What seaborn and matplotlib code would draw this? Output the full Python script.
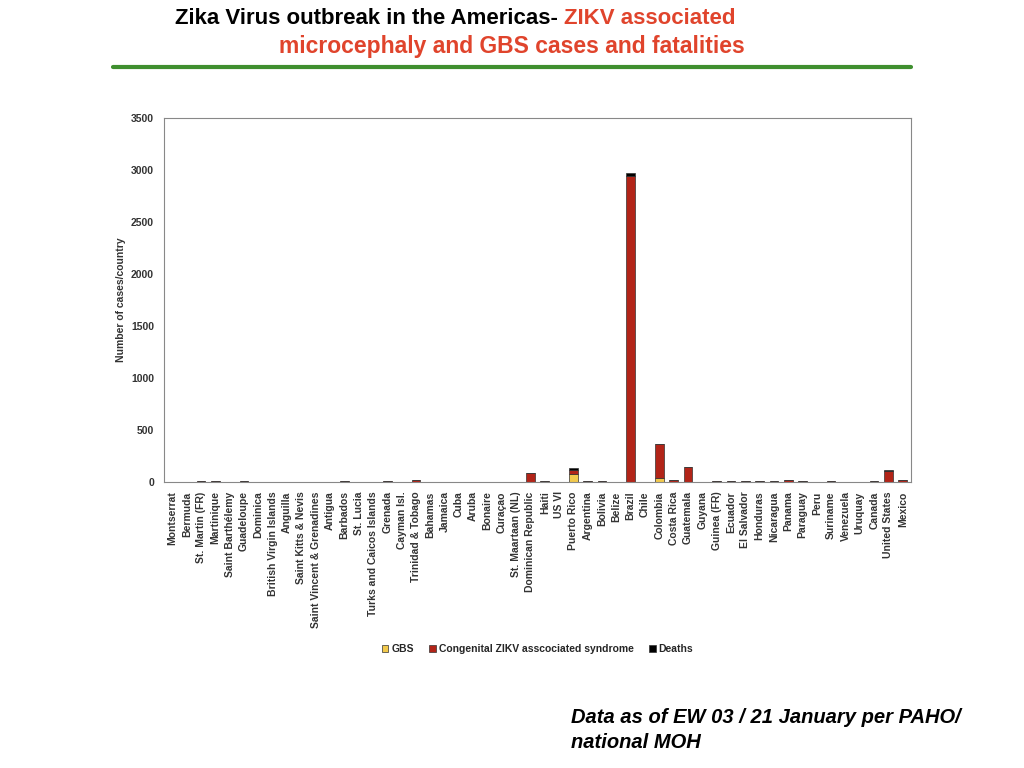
import numpy as np
import pandas as pd
import matplotlib.pyplot as plt
import seaborn as sns

countries = ["Montserrat", "Bermuda", "St. Martin (FR)", "Martinique", "Saint Barthélemy", "Guadeloupe",
             "Dominica", "British Virgin Islands", "Anguilla", "Saint Kitts & Nevis",
             "Saint Vincent & Grenadines", "Antigua", "Barbados", "St. Lucia", "Turks and Caicos Islands",
             "Grenada", "Cayman Isl.", "Trinidad & Tobago", "Bahamas", "Jamaica", "Cuba", "Aruba", "Bonaire",
             "Curaçao", "St. Maartaan (NL)", "Dominican Republic", "Haiti", "US VI", "Puerto Rico",
             "Argentina", "Bolivia", "Belize", "Brazil", "Chile", "Colombia", "Costa Rica", "Guatemala",
             "Guyana", "Guinea (FR)", "Ecuador", "El Salvador", "Honduras", "Nicaragua", "Panama",
             "Paraguay", "Peru", "Suriname", "Venezuela", "Uruquay", "Canada", "United States", "Mexico"]
gbs = [0, 0, 0, 0, 0, 0, 0, 0, 0, 0, 0, 0, 0, 0, 0, 0, 0, 0, 0, 0, 0, 0, 0, 0, 0, 0, 0, 0, 75,
       0, 0, 0, 0, 0, 30, 0, 0, 0, 0, 0, 0, 0, 0, 0, 0, 0, 0, 0, 0, 0, 0, 0]
congenital = [0, 0, 2, 3, 0, 3, 0, 0, 0, 0, 0, 0, 3, 0, 0, 2, 0, 12, 0, 0, 0, 0, 0, 0, 0, 80, 2, 0, 40,
              3, 3, 0, 2935, 0, 330, 15, 135, 0, 2, 2, 2, 2, 2, 12, 3, 0, 3, 0, 0, 2, 100, 12]
deaths = [0, 0, 2, 2, 0, 2, 0, 0, 0, 0, 0, 0, 2, 0, 0, 2, 0, 4, 0, 0, 0, 0, 0, 0, 0, 3, 1, 0, 12,
          2, 2, 0, 30, 0, 5, 3, 3, 0, 1, 1, 1, 1, 1, 2, 2, 0, 2, 0, 0, 2, 12, 3]

fig = plt.figure(figsize=(10.24, 7.68), dpi=100)
sns.set_style("white")
plt.rcParams['font.family'] = ['Liberation Sans', 'DejaVu Sans']

fig.text(0.551, 0.976, "Zika Virus outbreak in the Americas- ", ha="right", va="center",
         fontsize=16, fontweight="bold", color="black")
fig.text(0.551, 0.976, "ZIKV associated", ha="left", va="center", fontsize=16, fontweight="bold", color="#e0442c")
fig.text(0.5, 0.939, "microcephaly and GBS cases and fatalities", ha="center", va="center",
         fontsize=16.5, fontweight="bold", color="#e0442c")
fig.add_artist(plt.Line2D([0.11, 0.89], [0.913, 0.913], color="#3f8f2f", lw=3))

ax = fig.add_axes([0.16, 0.373, 0.73, 0.474])
x = np.arange(len(countries))
g = np.array(gbs); c = np.array(congenital); d = np.array(deaths)
kw = dict(width=0.6, edgecolor="#333333", linewidth=0.5)
ax.bar(x, g, color="#f2c94c", label="GBS", **kw)
ax.bar(x, c, bottom=g, color="#b22418", label="Congenital ZIKV asscociated syndrome", **kw)
ax.bar(x, d, bottom=g + c, color="black", label="Deaths", **kw)
ax.set_xlim(-0.6, len(countries) - 0.4)
ax.set_ylim(0, 3500)
ax.set_yticks(range(0, 3501, 500))
ax.set_xticks(x)
ax.set_xticklabels(countries, rotation=90, fontsize=7.5, fontweight="bold", color="#333333")
ax.tick_params(axis="y", labelsize=7.5, colors="#333333")
for t in ax.get_yticklabels():
    t.set_fontweight("bold")
ax.set_ylabel("Number of cases/country", fontsize=7.5, fontweight="bold", color="#333333")
for s in ax.spines.values():
    s.set_color("#888888")
ax.legend(loc="upper center", bbox_to_anchor=(0.5, -0.42), ncol=3, frameon=False,
          prop={"size": 7.5, "weight": "bold"}, handlelength=0.6, handletextpad=0.3, columnspacing=1.5)

fig.text(0.558, 0.049, "Data as of EW 03 / 21 January per PAHO/\nnational MOH", ha="left", va="center",
         fontsize=14.5, fontweight="bold", style="italic", linespacing=1.4, color="black")
fig.savefig("out.png", dpi=100)
